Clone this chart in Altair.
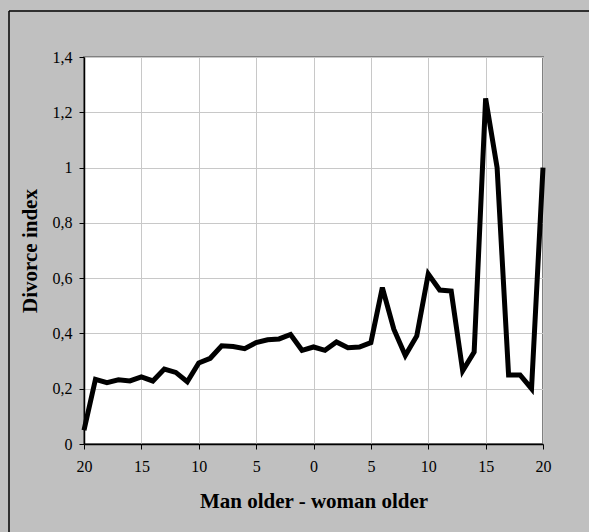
import altair as alt
import pandas as pd

# Age difference (negative = woman older, positive = man older)
age_gap = list(range(-20, 21))
divorce_index = [
    0.05, 0.234, 0.222, 0.232, 0.228, 0.243, 0.228, 0.271, 0.259, 0.225,
    0.293, 0.310, 0.355, 0.353, 0.345, 0.367, 0.377, 0.380, 0.396, 0.339,
    0.351, 0.339, 0.369, 0.348, 0.351, 0.367, 0.566, 0.415, 0.320, 0.391,
    0.615, 0.557, 0.553, 0.265, 0.333, 1.25, 1.0, 0.250, 0.250, 0.200,
    1.0,
]
x_ticks = [-20, -15, -10, -5, 0, 5, 10, 15, 20]
y_ticks = [0, 0.2, 0.4, 0.6, 0.8, 1, 1.2, 1.4]

df = pd.DataFrame({"gap": age_gap, "index": divorce_index})

FONT = "Liberation Serif"

axis_style = dict(
    labelFont=FONT,
    labelFontSize=16,
    labelColor="black",
    titleFont=FONT,
    titleFontSize=21,
    titleFontWeight="bold",
    titleColor="black",
    domainColor="black",
    domainWidth=1.5,
    tickColor="black",
    tickSize=5,
    tickWidth=1,
    gridColor="#c8c8c8",
    gridWidth=1,
)

line = alt.Chart(df).mark_line(
    color="black", strokeWidth=5, strokeJoin="miter", strokeCap="butt"
).encode(
    x=alt.X(
        "gap:Q",
        scale=alt.Scale(domain=[-20, 20], nice=False, zero=False),
        axis=alt.Axis(
            values=x_ticks,
            labelExpr="abs(datum.value)",
            labelFlush=False,
            labelOverlap=False,
            labelPadding=9,
            title="Man older - woman older",
            titlePadding=16,
            **axis_style,
        ),
    ),
    y=alt.Y(
        "index:Q",
        scale=alt.Scale(domain=[0, 1.4], nice=False),
        axis=alt.Axis(
            values=y_ticks,
            labelExpr="replace(toString(datum.value), '.', ',')",
            labelFlush=False,
            labelOverlap=False,
            labelPadding=7,
            title="Divorce index",
            titlePadding=12,
            **axis_style,
        ),
    ),
)

# Outer frame lines along the top and left of the figure, kept inside the canvas
frame_data = pd.DataFrame({"k": [0]})
frame_top = alt.Chart(frame_data).mark_rule(color="black", strokeWidth=1.5).encode(
    x=alt.value(-75), x2=alt.value(505), y=alt.value(-46)
)
frame_left = alt.Chart(frame_data).mark_rule(color="black", strokeWidth=1.5).encode(
    x=alt.value(-75), y=alt.value(-46), y2=alt.value(475)
)

chart = (
    alt.layer(line, frame_top, frame_left)
    .properties(
        width=459,
        height=387,
        autosize=alt.AutoSizeParams(type="none"),
        padding={"left": 84, "top": 57, "right": 46, "bottom": 88},
        background="#c0c0c0",
    )
    .configure_view(fill="white", stroke="#808080", strokeWidth=2)
)

chart.save("out.html", embed_options={"renderer": "svg", "actions": False})
